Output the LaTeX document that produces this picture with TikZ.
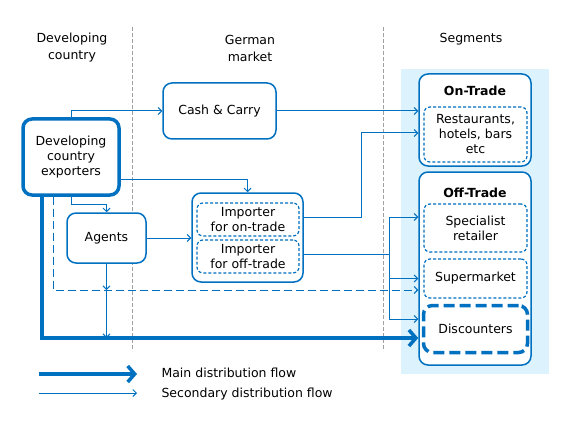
\documentclass[tikz,border=0pt]{standalone}
\usepackage{fontspec}
\setmainfont{DejaVu Sans}
\usetikzlibrary{arrows.meta,positioning,calc}
\definecolor{flowblue}{HTML}{0070C0}
\definecolor{segbg}{HTML}{DCF2FC}
\definecolor{colgray}{HTML}{A0A0A0}
\tikzset{
  box/.style={rectangle, rounded corners=9pt, draw=flowblue, line width=1.5pt, fill=white, align=center, inner sep=0pt},
  inbox/.style={rectangle, rounded corners=6pt, draw=flowblue, line width=1.2pt, dash pattern=on 3pt off 2pt, fill=white, align=center, inner sep=0pt},
  flow/.style={draw=flowblue, line width=1pt, -{Straight Barb[length=3.5pt,width=7pt]}},
  mainflow/.style={draw=flowblue, line width=3.5pt, -{Straight Barb[length=7pt,width=16pt]}},
  divider/.style={draw=colgray, line width=0.9pt, dash pattern=on 4pt off 2pt},
  header/.style={align=center}
}

\begin{document}
\begin{tikzpicture}[x=1pt, y=-1pt, font=\fontsize{12.5}{15}\selectfont]

\useasboundingbox (0,0) rectangle (577,422);

% columns
\fill[segbg] (401,69) rectangle (549,374);
\draw[divider] (132,27) -- (132,351);
\draw[divider] (383,27) -- (383,351);

\node[header, font=\fontsize{12.5}{17}\selectfont] (hdev) at (72,48) {Developing\\country};
\node[header, font=\fontsize{12.5}{17}\selectfont] (hger) at (250,48) {German\\market};
\node[header] (hseg) at (471,39) {Segments};

% exporters and german market
\node[box, line width=3.5pt, minimum width=96pt, minimum height=76pt] (exporters) at (71,157) {Developing\\country\\exporters};
\node[box, minimum width=113pt, minimum height=56pt] (cashcarry) at (219.5,111) {Cash \& Carry};
\node[box, minimum width=79pt, minimum height=50pt] (agents) at (106.5,238) {Agents};
\node[box, minimum width=111pt, minimum height=89pt] (importer) at (247.5,237.5) {};
\node[inbox, minimum width=102pt, minimum height=33pt] (impon) at (248,219.5) {Importer\\for on-trade};
\node[inbox, minimum width=102pt, minimum height=33pt] (impoff) at (248,256.5) {Importer\\for off-trade};

% segments
\node[box, minimum width=112pt, minimum height=92pt] (ontrade) at (475,120) {};
\node[font=\fontsize{12.5}{15}\bfseries] (onlabel) at (475,91) {On-Trade};
\node[inbox, minimum width=103pt, minimum height=55pt] (resto) at (475.5,134.5) {Restaurants,\\hotels, bars\\etc};
\node[box, minimum width=112pt, minimum height=193pt] (offtrade) at (475,268.5) {};
\node[font=\fontsize{12.5}{15}\bfseries] (offlabel) at (475,193) {Off-Trade};
\node[inbox, minimum width=103pt, minimum height=48pt] (specialist) at (475.5,228) {Specialist\\retailer};
\node[inbox, minimum width=103pt, minimum height=39pt] (supermarket) at (475.5,278.5) {Supermarket};
\node[inbox, line width=3.5pt, dash pattern=on 11pt off 5pt, rounded corners=9pt, minimum width=104pt, minimum height=47pt] (discounters) at (475.5,329) {Discounters};

\coordinate (dashy) at (0,290);
\coordinate (mainy) at (0,338);
\coordinate (split) at (389,254);
\coordinate (upturn) at (361,217);

% flows
\draw[flow] (exporters.north) |- (cashcarry.west);
\draw[flow] ([yshift=-22pt]exporters.east) -| (importer.north);
\draw[flow] (exporters.south) -- ++(0,8) -| (agents.north);
\draw[flow] (agents.east) -- (agents.east -| importer.west);
\draw[flow, dash pattern=on 8pt off 4pt] ([xshift=-18pt]exporters.south) |- (dashy -| offtrade.west);
\draw[flow] (agents.south) -- (agents.south |- dashy);
\draw[flow] (agents.south) -- (agents.south |- mainy);
\draw[mainflow] ([xshift=-29pt]exporters.south) |- (mainy -| offtrade.west);

\draw[flow] (cashcarry.east) -- (cashcarry.east -| ontrade.west);
\draw[flow] (importer.east |- upturn) -- (upturn) |- ([yshift=-13pt]ontrade.west);
\draw[draw=flowblue, line width=1pt] (importer.east |- split) -- (split);
\draw[flow] (split) |- (offtrade.west |- upturn);
\draw[flow] (split) |- (offtrade.west |- supermarket);
\draw[flow] (split) |- ([yshift=10pt]offtrade.west |- discounters);

% legend
\coordinate (lmain) at (39,374);
\coordinate (lsec) at (39,393);
\draw[mainflow] (lmain) -- ++(98,0);
\draw[flow] (lsec) -- ++(98,0);
\node[anchor=west] (tmain) at (158,373) {Main distribution flow};
\node[anchor=west] (tsec) at (158,394) {Secondary distribution flow};

\end{tikzpicture}
\end{document}
